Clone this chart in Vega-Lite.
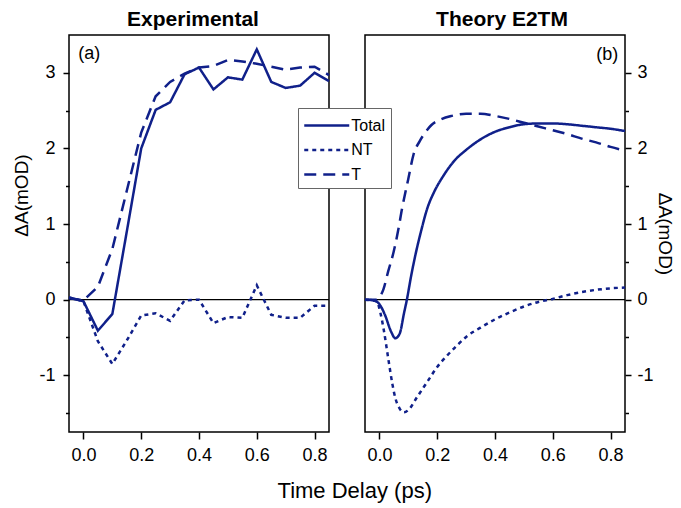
{
  "$schema": "https://vega.github.io/schema/vega-lite/v6.json",
  "padding": {"left": 11, "top": 8, "right": 0, "bottom": 2},
  "bounds": "flush",
  "spacing": 36,
  "background": "white",
  "title": {"text": "Time Delay (ps)", "orient": "bottom", "anchor": "middle", "fontSize": 22, "font": "Liberation Sans", "fontWeight": "normal", "offset": 16, "dx": 12, "color": "black"},
  "config": {
    "font": "Liberation Sans",
    "view": {"stroke": "black", "strokeWidth": 1.5},
    "axis": {"grid": false, "domain": false, "tickColor": "black", "tickWidth": 1.5, "labelFontSize": 18, "labelColor": "black", "labelFont": "Liberation Sans", "titleFont": "Liberation Sans", "titleFontSize": 19, "titleFontWeight": "normal", "titleColor": "black"},
    "title": {"font": "Liberation Sans", "color": "black"}
  },
  "datasets": {
    "exp": [
      {"series": "Total", "t": -0.05, "v": 0.03}, {"series": "Total", "t": 0.0, "v": -0.02}, {"series": "Total", "t": 0.05, "v": -0.41}, {"series": "Total", "t": 0.1, "v": -0.19}, {"series": "Total", "t": 0.15, "v": 0.9}, {"series": "Total", "t": 0.2, "v": 2.0}, {"series": "Total", "t": 0.25, "v": 2.51}, {"series": "Total", "t": 0.3, "v": 2.61}, {"series": "Total", "t": 0.35, "v": 2.98}, {"series": "Total", "t": 0.4, "v": 3.07}, {"series": "Total", "t": 0.45, "v": 2.78}, {"series": "Total", "t": 0.5, "v": 2.94}, {"series": "Total", "t": 0.55, "v": 2.91}, {"series": "Total", "t": 0.6, "v": 3.31}, {"series": "Total", "t": 0.65, "v": 2.88}, {"series": "Total", "t": 0.7, "v": 2.8}, {"series": "Total", "t": 0.75, "v": 2.83}, {"series": "Total", "t": 0.8, "v": 3.0}, {"series": "Total", "t": 0.85, "v": 2.89},
      {"series": "NT", "t": -0.05, "v": 0.03}, {"series": "NT", "t": 0.0, "v": -0.02}, {"series": "NT", "t": 0.05, "v": -0.55}, {"series": "NT", "t": 0.1, "v": -0.85}, {"series": "NT", "t": 0.15, "v": -0.54}, {"series": "NT", "t": 0.2, "v": -0.21}, {"series": "NT", "t": 0.25, "v": -0.18}, {"series": "NT", "t": 0.3, "v": -0.28}, {"series": "NT", "t": 0.35, "v": -0.01}, {"series": "NT", "t": 0.4, "v": 0.0}, {"series": "NT", "t": 0.45, "v": -0.31}, {"series": "NT", "t": 0.5, "v": -0.23}, {"series": "NT", "t": 0.55, "v": -0.24}, {"series": "NT", "t": 0.6, "v": 0.19}, {"series": "NT", "t": 0.65, "v": -0.2}, {"series": "NT", "t": 0.7, "v": -0.24}, {"series": "NT", "t": 0.75, "v": -0.24}, {"series": "NT", "t": 0.8, "v": -0.08}, {"series": "NT", "t": 0.85, "v": -0.08},
      {"series": "T", "t": -0.05, "v": 0.02}, {"series": "T", "t": 0.0, "v": -0.01}, {"series": "T", "t": 0.05, "v": 0.17}, {"series": "T", "t": 0.1, "v": 0.67}, {"series": "T", "t": 0.15, "v": 1.44}, {"series": "T", "t": 0.2, "v": 2.21}, {"series": "T", "t": 0.25, "v": 2.69}, {"series": "T", "t": 0.3, "v": 2.88}, {"series": "T", "t": 0.35, "v": 2.99}, {"series": "T", "t": 0.4, "v": 3.07}, {"series": "T", "t": 0.45, "v": 3.09}, {"series": "T", "t": 0.5, "v": 3.17}, {"series": "T", "t": 0.55, "v": 3.15}, {"series": "T", "t": 0.6, "v": 3.12}, {"series": "T", "t": 0.65, "v": 3.08}, {"series": "T", "t": 0.7, "v": 3.04}, {"series": "T", "t": 0.75, "v": 3.07}, {"series": "T", "t": 0.8, "v": 3.08}, {"series": "T", "t": 0.85, "v": 2.97}
    ],
    "theory": [
      {"series": "Total", "t": -0.05, "v": 0.0}, {"series": "Total", "t": -0.02, "v": -0.01}, {"series": "Total", "t": 0.0, "v": -0.06}, {"series": "Total", "t": 0.02, "v": -0.21}, {"series": "Total", "t": 0.04, "v": -0.42}, {"series": "Total", "t": 0.055, "v": -0.51}, {"series": "Total", "t": 0.07, "v": -0.45}, {"series": "Total", "t": 0.085, "v": -0.18}, {"series": "Total", "t": 0.095, "v": 0.0}, {"series": "Total", "t": 0.11, "v": 0.32}, {"series": "Total", "t": 0.125, "v": 0.6}, {"series": "Total", "t": 0.145, "v": 0.92}, {"series": "Total", "t": 0.165, "v": 1.2}, {"series": "Total", "t": 0.19, "v": 1.43}, {"series": "Total", "t": 0.22, "v": 1.63}, {"series": "Total", "t": 0.26, "v": 1.84}, {"series": "Total", "t": 0.3, "v": 1.98}, {"series": "Total", "t": 0.35, "v": 2.12}, {"series": "Total", "t": 0.4, "v": 2.22}, {"series": "Total", "t": 0.45, "v": 2.28}, {"series": "Total", "t": 0.5, "v": 2.32}, {"series": "Total", "t": 0.55, "v": 2.33}, {"series": "Total", "t": 0.6, "v": 2.33}, {"series": "Total", "t": 0.65, "v": 2.32}, {"series": "Total", "t": 0.7, "v": 2.3}, {"series": "Total", "t": 0.75, "v": 2.28}, {"series": "Total", "t": 0.8, "v": 2.26}, {"series": "Total", "t": 0.85, "v": 2.23},
      {"series": "NT", "t": -0.05, "v": 0.0}, {"series": "NT", "t": -0.01, "v": -0.02}, {"series": "NT", "t": 0.003, "v": -0.17}, {"series": "NT", "t": 0.015, "v": -0.4}, {"series": "NT", "t": 0.031, "v": -0.79}, {"series": "NT", "t": 0.045, "v": -1.12}, {"series": "NT", "t": 0.055, "v": -1.3}, {"series": "NT", "t": 0.07, "v": -1.44}, {"series": "NT", "t": 0.085, "v": -1.49}, {"series": "NT", "t": 0.1, "v": -1.46}, {"series": "NT", "t": 0.13, "v": -1.29}, {"series": "NT", "t": 0.165, "v": -1.09}, {"series": "NT", "t": 0.2, "v": -0.89}, {"series": "NT", "t": 0.234, "v": -0.74}, {"series": "NT", "t": 0.27, "v": -0.6}, {"series": "NT", "t": 0.304, "v": -0.48}, {"series": "NT", "t": 0.35, "v": -0.37}, {"series": "NT", "t": 0.4, "v": -0.26}, {"series": "NT", "t": 0.45, "v": -0.17}, {"series": "NT", "t": 0.5, "v": -0.09}, {"series": "NT", "t": 0.55, "v": -0.03}, {"series": "NT", "t": 0.6, "v": 0.01}, {"series": "NT", "t": 0.65, "v": 0.06}, {"series": "NT", "t": 0.7, "v": 0.1}, {"series": "NT", "t": 0.75, "v": 0.13}, {"series": "NT", "t": 0.8, "v": 0.15}, {"series": "NT", "t": 0.85, "v": 0.16},
      {"series": "T", "t": -0.05, "v": 0.0}, {"series": "T", "t": -0.01, "v": 0.0}, {"series": "T", "t": 0.0, "v": 0.03}, {"series": "T", "t": 0.014, "v": 0.14}, {"series": "T", "t": 0.03, "v": 0.37}, {"series": "T", "t": 0.049, "v": 0.63}, {"series": "T", "t": 0.065, "v": 0.92}, {"series": "T", "t": 0.078, "v": 1.2}, {"series": "T", "t": 0.1, "v": 1.6}, {"series": "T", "t": 0.118, "v": 1.92}, {"series": "T", "t": 0.14, "v": 2.1}, {"series": "T", "t": 0.16, "v": 2.22}, {"series": "T", "t": 0.18, "v": 2.31}, {"series": "T", "t": 0.21, "v": 2.38}, {"series": "T", "t": 0.25, "v": 2.43}, {"series": "T", "t": 0.3, "v": 2.46}, {"series": "T", "t": 0.35, "v": 2.46}, {"series": "T", "t": 0.4, "v": 2.43}, {"series": "T", "t": 0.45, "v": 2.39}, {"series": "T", "t": 0.5, "v": 2.34}, {"series": "T", "t": 0.55, "v": 2.29}, {"series": "T", "t": 0.6, "v": 2.24}, {"series": "T", "t": 0.65, "v": 2.19}, {"series": "T", "t": 0.7, "v": 2.13}, {"series": "T", "t": 0.75, "v": 2.08}, {"series": "T", "t": 0.8, "v": 2.02}, {"series": "T", "t": 0.85, "v": 1.97}
    ]
  },
  "hconcat": [
    {
      "width": 260,
      "height": 397,
      "title": {"text": "Experimental", "fontSize": 21, "fontWeight": "bold", "offset": 5, "dx": -6},
      "layer": [
        {
          "data": {"values": [{}]},
          "mark": {"type": "rule", "color": "black", "strokeWidth": 1.3},
          "encoding": {"y": {"datum": 0}}
        },
        {
          "data": {"name": "exp"},
          "mark": {"type": "line", "color": "#10208a", "strokeWidth": 2.5},
          "encoding": {
            "x": {"field": "t", "type": "quantitative", "scale": {"domain": [-0.05, 0.85], "nice": false, "zero": false},
              "axis": {"title": null, "values": [0, 0.1, 0.2, 0.3, 0.4, 0.5, 0.6, 0.7, 0.8], "labelExpr": "round(datum.value*10) % 2 === 0 ? format(datum.value, '.1f') : ''", "tickSize": 7, "labelPadding": 7}},
            "y": {"field": "v", "type": "quantitative", "scale": {"domain": [-1.75, 3.5], "nice": false, "zero": false},
              "axis": {"title": "ΔA(mOD)", "orient": "left", "titleY": 160, "values": [-1.5, -1, -0.5, 0, 0.5, 1, 1.5, 2, 2.5, 3], "labelExpr": "datum.value % 1 === 0 ? '' + datum.value : ''", "tickSize": {"condition": {"test": "datum.value % 1 !== 0", "value": 3.5}, "value": 6}, "labelPadding": 8, "titlePadding": 7.5}},
            "strokeDash": {"field": "series", "type": "nominal", "scale": {"domain": ["Total", "NT", "T"], "range": [[1, 0], [4, 4], [12, 7]]}, "legend": null},
            "order": {"field": "t", "type": "quantitative"}
          }
        },
        {
          "data": {"values": [{}]},
          "mark": {"type": "text", "text": "(a)", "fontSize": 18, "align": "left", "baseline": "middle", "color": "black"},
          "encoding": {"x": {"datum": -0.018}, "y": {"datum": 3.25}}
        }
      ]
    },
    {
      "width": 260,
      "height": 397,
      "title": {"text": "Theory E2TM", "fontSize": 21, "fontWeight": "bold", "offset": 5, "dx": 7},
      "layer": [
        {
          "data": {"values": [{}]},
          "mark": {"type": "rule", "color": "black", "strokeWidth": 1.3},
          "encoding": {"y": {"datum": 0}}
        },
        {
          "data": {"name": "theory"},
          "mark": {"type": "line", "color": "#10208a", "strokeWidth": 2.5, "interpolate": "monotone"},
          "encoding": {
            "x": {"field": "t", "type": "quantitative", "scale": {"domain": [-0.05, 0.85], "nice": false, "zero": false},
              "axis": {"title": null, "values": [0, 0.1, 0.2, 0.3, 0.4, 0.5, 0.6, 0.7, 0.8], "labelExpr": "round(datum.value*10) % 2 === 0 ? format(datum.value, '.1f') : ''", "tickSize": 7, "labelPadding": 7}},
            "y": {"field": "v", "type": "quantitative", "scale": {"domain": [-1.75, 3.5], "nice": false, "zero": false},
              "axis": {"title": "ΔA(mOD)", "orient": "right", "values": [-1.5, -1, -0.5, 0, 0.5, 1, 1.5, 2, 2.5, 3], "labelExpr": "datum.value % 1 === 0 ? '' + datum.value : ''", "tickSize": {"condition": {"test": "datum.value % 1 !== 0", "value": 3.5}, "value": 6}, "labelPadding": 6, "titlePadding": 1}},
            "strokeDash": {"field": "series", "type": "nominal", "scale": {"domain": ["Total", "NT", "T"], "range": [[1, 0], [4, 4], [12, 7]]},
              "legend": {"orient": "none", "legendX": -67, "legendY": 73, "direction": "vertical", "title": null, "symbolType": "M-2,0H2", "symbolSize": 506, "symbolOffset": 11.25, "symbolStrokeWidth": 2.5, "symbolStrokeColor": "#10208a", "symbolFillColor": "transparent", "labelFontSize": 16, "labelColor": "black", "labelFont": "Liberation Sans", "strokeColor": "#666666", "fillColor": "white", "padding": 5, "rowPadding": 3.5, "labelOffset": 12}},
            "order": {"field": "t", "type": "quantitative"}
          }
        },
        {
          "data": {"values": [{}]},
          "mark": {"type": "text", "text": "(b)", "fontSize": 18, "align": "right", "baseline": "middle", "color": "black"},
          "encoding": {"x": {"datum": 0.827}, "y": {"datum": 3.23}}
        }
      ]
    }
  ],
  "resolve": {"scale": {"strokeDash": "independent"}, "legend": {"strokeDash": "independent"}}
}
